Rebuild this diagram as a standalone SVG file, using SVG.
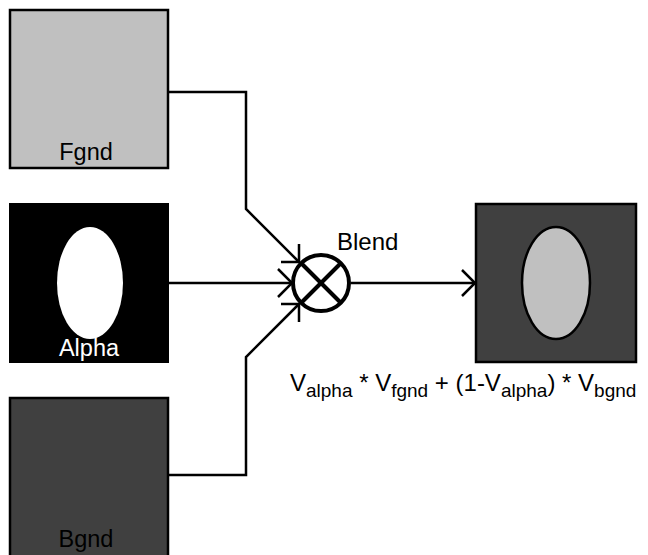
<svg xmlns="http://www.w3.org/2000/svg" width="648" height="555" viewBox="0 0 648 555">
<defs>
<style>
.box{stroke:#000;stroke-width:2.5}
.lbl{font-family:"Liberation Sans",Arial,sans-serif;font-size:23.5px;text-anchor:middle}
.wire{fill:none;stroke:#000;stroke-width:2.5}
.head{fill:none;stroke:#000;stroke-width:2.5}
.txt{font-family:"Liberation Sans",Arial,sans-serif;font-size:24px}
.sub{font-size:19px}
</style>
</defs>
<rect width="648" height="555" fill="#fff"/>
<g id="fgnd">
<rect class="box" x="10" y="10" width="158" height="158" fill="#c0c0c0"/>
<text class="lbl" x="86" y="160" fill="#000">Fgnd</text>
</g>
<g id="alpha">
<rect x="9" y="203" width="160" height="160" fill="#000"/>
<ellipse cx="90" cy="283" rx="33" ry="56" fill="#fff"/>
<text class="lbl" x="89" y="356" fill="#fff">Alpha</text>
</g>
<g id="bgnd">
<rect class="box" x="10" y="398" width="158" height="170" fill="#404040"/>
<text class="lbl" x="86" y="547" fill="#000">Bgnd</text>
</g>
<g id="blend">
<circle cx="321" cy="283" r="28" fill="#fff" stroke="#000" stroke-width="4"/>
<line x1="301" y1="263" x2="341" y2="303" stroke="#000" stroke-width="4"/>
<line x1="301" y1="303" x2="341" y2="263" stroke="#000" stroke-width="4"/>
<text class="txt" x="337" y="250">Blend</text>
</g>
<g id="output">
<rect class="box" x="476" y="204" width="160" height="158" fill="#404040"/>
<ellipse cx="556" cy="283" rx="34" ry="56" fill="#c0c0c0" stroke="#000" stroke-width="2.5"/>
</g>
<g id="connectors">
<polyline class="wire" points="168,92 246,92 246,209 299,262"/>
<polyline class="head" points="281,262 299,262 299,244"/>
<line class="wire" x1="169" y1="283" x2="292" y2="283"/>
<polyline class="head" points="278,269 292,283 278,297"/>
<polyline class="wire" points="168,475 246,475 246,357 299,304"/>
<polyline class="head" points="281,304 299,304 299,322"/>
<line class="wire" x1="351" y1="283" x2="475" y2="283"/>
<polyline class="head" points="462,270 475,283 462,296"/>
</g>
<g id="formula">
<text class="txt" x="290" y="391">V<tspan class="sub" dy="6">alpha</tspan><tspan dy="-6"> * V</tspan><tspan class="sub" dy="6">fgnd</tspan><tspan dy="-6"> + (1-V</tspan><tspan class="sub" dy="6">alpha</tspan><tspan dy="-6">) * V</tspan><tspan class="sub" dy="6">bgnd</tspan></text>
</g>
</svg>
